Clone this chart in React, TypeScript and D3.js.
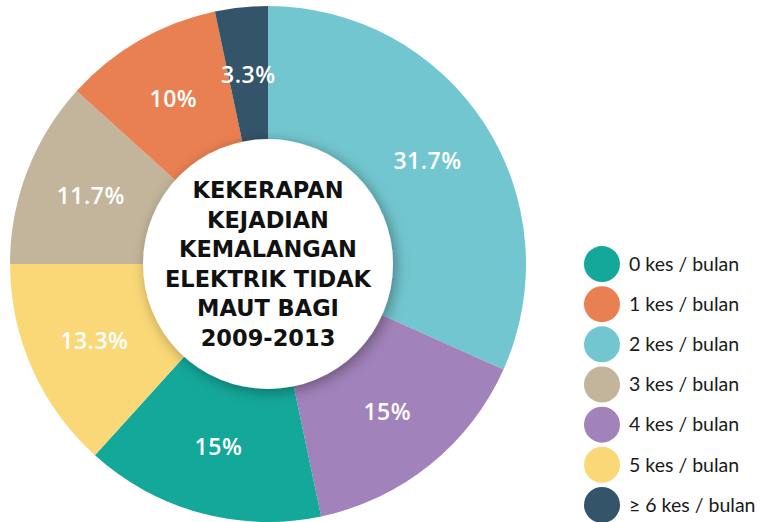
import React, { useEffect, useRef } from 'react';
import * as d3 from 'd3';

// legend order
const categories = ['0 kes / bulan', '1 kes / bulan', '2 kes / bulan', '3 kes / bulan', '4 kes / bulan', '5 kes / bulan', '≥ 6 kes / bulan'];
const colors = ['#14A89A', '#E98052', '#72C6CF', '#C2B59B', '#A282BA', '#FAD878', '#34546A'];
const values = [15, 10, 31.7, 11.7, 15, 13.3, 3.3];
// order of slices clockwise from the top
const sliceOrder = [2, 4, 0, 5, 3, 1, 6];
const titleLines = ['KEKERAPAN', 'KEJADIAN', 'KEMALANGAN', 'ELEKTRIK TIDAK', 'MAUT BAGI', '2009-2013'];

const W = 771;
const H = 522;

const App = () => {
  const ref = useRef<SVGSVGElement>(null);

  useEffect(() => {
    if (!ref.current) return;
    const svg = d3.select(ref.current);
    svg.selectAll('*').remove();

    const cx = 268, cy = 264, R = 258, rInner = 125;

    const defs = svg.append('defs');
    const f = defs.append('filter').attr('id', 'shadow')
      .attr('x', '-30%').attr('y', '-30%').attr('width', '160%').attr('height', '160%');
    f.append('feDropShadow').attr('dx', 3).attr('dy', 3)
      .attr('stdDeviation', 7).attr('flood-color', '#000').attr('flood-opacity', 0.35);

    const slices = sliceOrder.map(i => ({ i, v: values[i] }));
    const pie = d3.pie<{ i: number; v: number }>().sort(null).value(d => d.v);
    const arcs = pie(slices);
    const arc = d3.arc<d3.PieArcDatum<{ i: number; v: number }>>().innerRadius(0).outerRadius(R);
    const labelArc = d3.arc<d3.PieArcDatum<{ i: number; v: number }>>().innerRadius(190).outerRadius(190);

    const g = svg.append('g').attr('transform', `translate(${cx},${cy})`);
    g.selectAll('path.slice').data(arcs).join('path')
      .attr('class', 'slice')
      .attr('d', arc)
      .attr('fill', d => colors[d.data.i]);

    g.append('circle').attr('r', rInner).attr('fill', '#fff').attr('filter', 'url(#shadow)');

    g.selectAll('text.pct').data(arcs).join('text')
      .attr('class', 'pct')
      .attr('transform', d => `translate(${labelArc.centroid(d)})`)
      .attr('text-anchor', 'middle')
      .attr('dy', '0.35em')
      .style('font-family', '"Open Sans", sans-serif')
      .style('font-size', '23px')
      .style('font-weight', 600)
      .style('letter-spacing', '0.5px')
      .style('fill', '#fff')
      .text(d => `${d.data.v}%`);

    g.selectAll('text.title').data(titleLines).join('text')
      .attr('class', 'title')
      .attr('x', 0)
      .attr('y', (d, i) => -74 + i * 29.5)
      .attr('dy', '0.36em')
      .attr('text-anchor', 'middle')
      .style('font-family', '"DejaVu Sans", sans-serif')
      .style('font-size', '22.5px')
      .style('font-weight', 700)
      .style('fill', '#111')
      .text(d => d);

    const y = d3.scaleBand().domain(categories).range([244, 525]);
    const legend = svg.append('g');
    const item = legend.selectAll('g').data(categories).join('g')
      .attr('transform', d => `translate(602,${y(d)! + y.bandwidth() / 2})`);
    item.append('circle').attr('r', 18).attr('fill', (d, i) => colors[i]);
    item.append('text')
      .attr('x', 27)
      .attr('dy', '0.35em')
      .style('font-family', 'Lato, sans-serif')
      .style('font-size', '19.5px')
      .style('fill', '#1a1a1a')
      .text(d => d);
  }, []);

  return <svg ref={ref} width={W} height={H} style={{ position: 'absolute', left: 0, top: 0 }} />;
};

export default App;
